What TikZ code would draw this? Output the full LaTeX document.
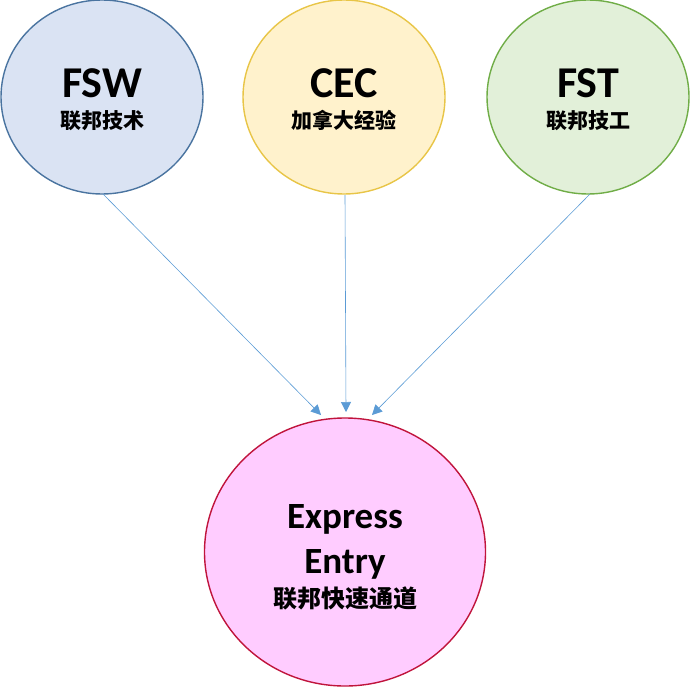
\documentclass[tikz,border=0pt]{standalone}
\usepackage{fontspec}
\setmainfont{Carlito}
\newfontfamily\cjk{Noto Sans CJK SC}
\usetikzlibrary{arrows.meta,shapes.geometric}
\definecolor{bluefill}{HTML}{DAE3F3}
\definecolor{blueline}{HTML}{4A74A0}
\definecolor{yelfill}{HTML}{FFF2CC}
\definecolor{yelline}{HTML}{E8C547}
\definecolor{grnfill}{HTML}{E2F0D9}
\definecolor{grnline}{HTML}{70AD47}
\definecolor{pinkfill}{HTML}{FFCCFF}
\definecolor{redline}{HTML}{C0143C}
\definecolor{arrowcol}{HTML}{5B9BD5}
\tikzset{
  circ/.style={ellipse, line width=1.4pt, minimum width=202pt, minimum height=194pt, inner sep=0pt},
  big/.style={ellipse, line width=1.4pt, minimum width=281pt, minimum height=268pt, inner sep=0pt},
  lat/.style={font=\fontsize{44}{44}\selectfont\bfseries},
  han/.style={font=\cjk\fontsize{21}{21}\selectfont\bfseries},
  conn/.style={draw=arrowcol, line width=0.6pt, -{Triangle[length=10pt,width=10pt]}}
}
\begin{document}
\begin{tikzpicture}[x=1pt,y=-1pt]
\useasboundingbox (0,0) rectangle (692,688);
\node[circ, draw=blueline, fill=bluefill] (fsw) at (102,97) {};
\node[circ, draw=yelline, fill=yelfill] (cec) at (344,97) {};
\node[circ, draw=grnline, fill=grnfill] (fst) at (588,97) {};
\node[big, draw=redline, fill=pinkfill] (ee) at (345,552) {};
\node[lat, anchor=base] (fswt) at (102,97) {FSW};
\node[han, anchor=base] (fswc) at (102,128) {联邦技术};
\node[lat, anchor=base] (cect) at (344,97) {CEC};
\node[han, anchor=base] (cecc) at (344,128) {加拿大经验};
\node[lat, anchor=base] (fstt) at (588,97) {FST};
\node[han, anchor=base] (fstc) at (588,128) {联邦技工};
\node[font=\fontsize{37}{37}\selectfont\bfseries, anchor=base] (eet1) at (345,528) {Express};
\node[font=\fontsize{37}{37}\selectfont\bfseries, anchor=base] (eet2) at (345,573) {Entry};
\node[font=\cjk\fontsize{24}{24}\selectfont\bfseries, anchor=base] (eec) at (345,607) {联邦快速通道};
\coordinate (t1) at (321,415);
\coordinate (t2) at (346,412);
\coordinate (t3) at (372,415);
\coordinate (s1) at (103,194);
\coordinate (s2) at (345,195);
\coordinate (s3) at (590,194);
\draw[conn] (s1) -- (t1);
\draw[conn] (s2) -- (t2);
\draw[conn] (s3) -- (t3);
\end{tikzpicture}
\end{document}
